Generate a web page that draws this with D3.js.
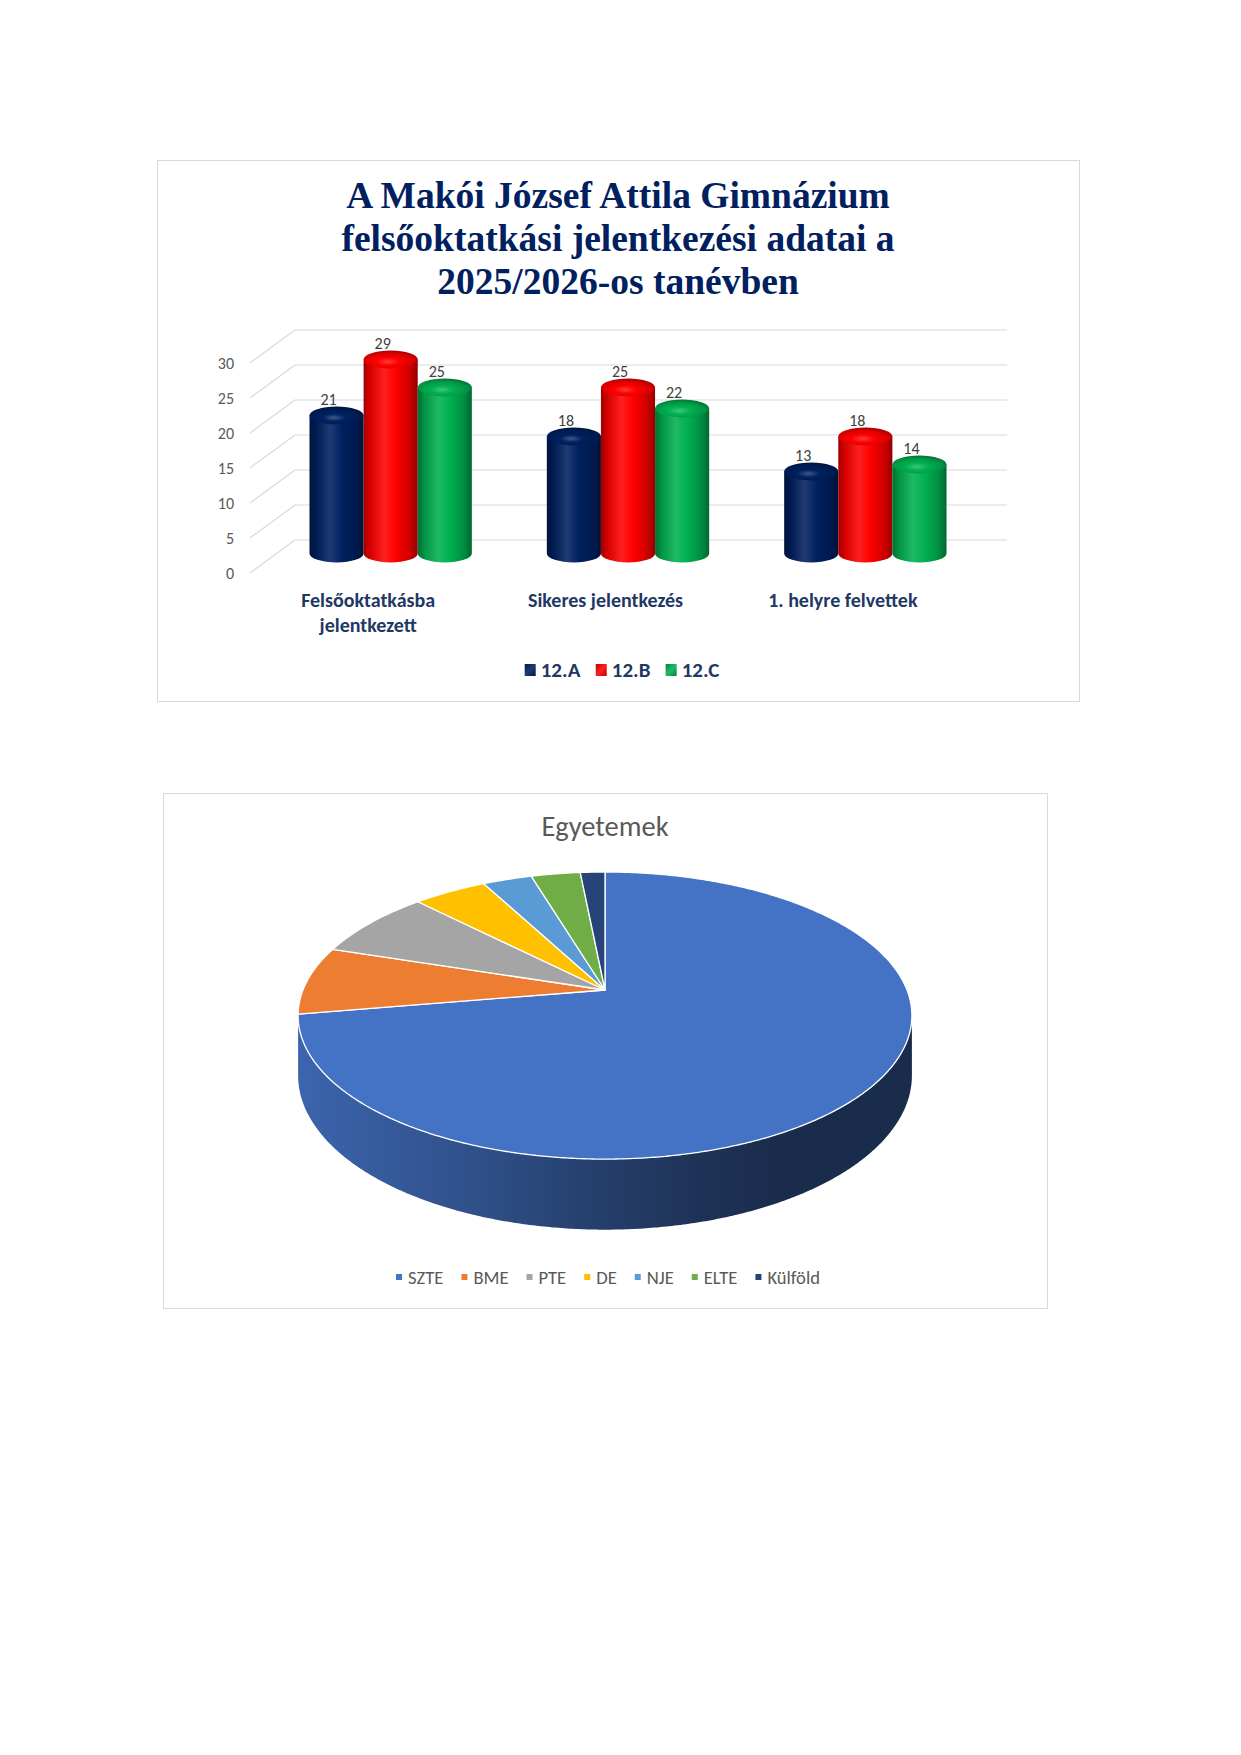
<!DOCTYPE html>
<html>
<head>
<meta charset="utf-8">
<script src="https://cdn.jsdelivr.net/npm/d3@7/dist/d3.min.js"></script>
<style>
  body { margin: 0; background: #fff; }
  svg { display: block; }
</style>
</head>
<body>
<div id="wrapper"></div>
<script>
// ---- data ----
const categories = ["Felsőoktatkásba jelentkezett", "Sikeres jelentkezés", "1. helyre felvettek"];
const series = ["12.A", "12.B", "12.C"];
const values12A = [21, 18, 13];
const values12B = [29, 25, 18];
const values12C = [25, 22, 14];
const yTicks = [0, 5, 10, 15, 20, 25, 30];

const universities = ["SZTE", "BME", "PTE", "DE", "NJE", "ELTE", "Külföld"];
const uniCounts = [47, 5, 5, 3, 2, 2, 1];

const barColors = ["#002060", "#FF0000", "#00B050"];
const pieColors = ["#4472C4", "#ED7D31", "#A5A5A5", "#FFC000", "#5B9BD5", "#70AD47", "#264478"];

const sans = "Calibri, Carlito, Lato, sans-serif";

const svg = d3.select("#wrapper").append("svg")
  .attr("width", 1241)
  .attr("height", 1755);
const defs = svg.append("defs");

// ---------------- bar chart ----------------
const bar = svg.append("g");

bar.append("rect")
  .attr("x", 157.5).attr("y", 160.5)
  .attr("width", 922).attr("height", 541)
  .attr("fill", "#fff").attr("stroke", "#D9D9D9");

const titleLines = ["A Makói József Attila Gimnázium", "felsőoktatkási jelentkezési adatai a", "2025/2026-os tanévben"];
bar.append("text")
  .attr("text-anchor", "middle")
  .attr("font-family", "'Times New Roman', 'Liberation Serif', serif")
  .attr("font-weight", "bold")
  .attr("font-size", 37.5)
  .attr("fill", "#002060")
  .selectAll("tspan")
  .data(titleLines)
  .join("tspan")
  .attr("x", 618)
  .attr("y", (d, i) => 208 + i * 43)
  .text(d => d);

// front edge scale (labels), walls are offset in depth
const depth = { dx: 45, dy: -33 };
const frontX = 250;
const backRight = 1007;
const yFront = d3.scaleLinear().domain([0, 30]).range([573, 363]);
const yMid = v => yFront(v) + depth.dy / 2;

const grid = bar.append("g").attr("stroke", "#D9D9D9").attr("stroke-width", 1.2).attr("fill", "none");
grid.selectAll(".back").data(yTicks).join("line")
  .attr("x1", frontX + depth.dx).attr("x2", backRight)
  .attr("y1", d => yFront(d) + depth.dy).attr("y2", d => yFront(d) + depth.dy);
grid.selectAll(".side").data(yTicks).join("line")
  .attr("x1", frontX).attr("y1", d => yFront(d))
  .attr("x2", frontX + depth.dx).attr("y2", d => yFront(d) + depth.dy);

const yAxis = bar.append("g")
  .attr("transform", `translate(${frontX},0)`)
  .call(d3.axisLeft(yFront).tickValues(yTicks).tickSize(0).tickPadding(16));
yAxis.select(".domain").remove();
yAxis.selectAll("text")
  .attr("font-family", sans)
  .attr("font-size", 16)
  .attr("fill", "#595959");

const x0 = d3.scaleBand()
  .domain(categories)
  .range([272, 984])
  .paddingInner(0.316)
  .paddingOuter(0.158);
const x1 = d3.scaleBand()
  .domain(series)
  .range([0, x0.bandwidth()]);

// gradients for cylinders
barColors.forEach((c, i) => {
  const base = d3.rgb(c);
  const light = d3.interpolateRgb(c, "#ffffff")(0.12);
  const body = defs.append("linearGradient").attr("id", "body" + i)
    .attr("x1", 0).attr("x2", 1).attr("y1", 0).attr("y2", 0);
  [[0, base.darker(1.3)], [0.12, base.darker(0.5)], [0.38, light], [0.6, base], [0.85, base.darker(0.6)], [1, base.darker(1.5)]]
    .forEach(([o, col]) => body.append("stop").attr("offset", o).attr("stop-color", col));
  const cap = defs.append("radialGradient").attr("id", "cap" + i)
    .attr("cx", 0.45).attr("cy", 0.62).attr("r", 0.6);
  [[0, d3.interpolateRgb(c, "#ffffff")(0.25)], [0.35, base], [0.8, base.darker(0.5)], [1, base.darker(1.1)]]
    .forEach(([o, col]) => cap.append("stop").attr("offset", o).attr("stop-color", col));
  const mark = defs.append("linearGradient").attr("id", "mark" + i)
    .attr("x1", 0).attr("x2", 1).attr("y1", 0).attr("y2", 1);
  [[0, base.darker(0.8)], [0.5, light], [1, base.darker(0.8)]]
    .forEach(([o, col]) => mark.append("stop").attr("offset", o).attr("stop-color", col));
});

const barData = categories.map((cat, ci) => ({
  cat,
  vals: [values12A[ci], values12B[ci], values12C[ci]].map((v, si) => ({ s: series[si], si, v }))
}));

const ry = 9;
const groups = bar.append("g").selectAll("g")
  .data(barData)
  .join("g")
  .attr("transform", d => `translate(${x0(d.cat)},0)`);

const cyl = groups.selectAll("g")
  .data(d => d.vals)
  .join("g");

cyl.append("path")
  .attr("fill", d => `url(#body${d.si})`)
  .attr("d", d => {
    const x = x1(d.s), w = x1.bandwidth();
    const top = yMid(d.v) + 6, base = yMid(0) - 3;
    return `M${x},${top}L${x},${base}A${w / 2},${ry} 0 0 0 ${x + w},${base}L${x + w},${top}Z`;
  });
cyl.append("ellipse")
  .attr("cx", d => x1(d.s) + x1.bandwidth() / 2)
  .attr("cy", d => yMid(d.v) + 6)
  .attr("rx", x1.bandwidth() / 2)
  .attr("ry", ry)
  .attr("fill", d => `url(#cap${d.si})`);
cyl.append("text")
  .attr("x", d => x1(d.s) + x1.bandwidth() / 2 - 8)
  .attr("y", d => yMid(d.v) - 5)
  .attr("text-anchor", "middle")
  .attr("font-family", sans)
  .attr("font-size", 16)
  .attr("fill", "#404040")
  .text(d => d.v);

// category labels at the front edge
const catText = bar.append("g").selectAll("text")
  .data(categories)
  .join("text")
  .attr("text-anchor", "middle")
  .attr("font-family", sans)
  .attr("font-weight", "bold")
  .attr("font-size", 20)
  .attr("fill", "#1F3864");
catText.each(function (d) {
  const t = d3.select(this);
  const cx = x0(d) + x0.bandwidth() / 2 - depth.dx / 2;
  const words = d.split(" ");
  let lines = [], line = [];
  const probe = t.append("tspan");
  words.forEach(w => {
    probe.text([...line, w].join(" "));
    if (line.length && probe.node().getComputedTextLength() > 190) {
      lines.push(line.join(" "));
      line = [w];
    } else line.push(w);
  });
  lines.push(line.join(" "));
  probe.remove();
  t.selectAll("tspan").data(lines).join("tspan")
    .attr("x", cx).attr("y", (l, i) => 607 + i * 25).text(l => l);
});

// legend
const legBar = bar.append("g").attr("transform", "translate(0,670)");
const legItems = legBar.selectAll("g").data(series).join("g");
legItems.append("rect")
  .attr("width", 11).attr("height", 12).attr("y", -6)
  .attr("fill", (d, i) => `url(#mark${i})`);
legItems.append("text")
  .attr("x", 16).attr("y", 7)
  .attr("font-family", sans).attr("font-weight", "bold")
  .attr("font-size", 21).attr("fill", "#1F3864")
  .text(d => d);
{
  let widths = [];
  legItems.each(function () { widths.push(this.getBBox().width); });
  const gap = 15;
  const total = d3.sum(widths) + gap * (widths.length - 1);
  let x = 622 - total / 2;
  legItems.attr("transform", (d, i) => { const t = `translate(${x},0)`; x += widths[i] + gap; return t; });
}

// ---------------- pie chart ----------------
const pie = svg.append("g");
pie.append("rect")
  .attr("x", 163.5).attr("y", 793.5)
  .attr("width", 884).attr("height", 515)
  .attr("fill", "#fff").attr("stroke", "#D9D9D9");

pie.append("text")
  .attr("x", 605).attr("y", 836)
  .attr("text-anchor", "middle")
  .attr("font-family", sans)
  .attr("font-size", 28.5)
  .attr("fill", "#595959")
  .text("Egyetemek");

// perspective disc: apex at centre, back edge shrunk
const P = { cx: 605, cy: 990, s: 302, b: 139, e: 0.178, thick: 58 };
function proj(a, drop) {
  const X = Math.sin(a), Z = -Math.cos(a), w = 1 - P.e * Z;
  return [P.cx + P.s * X / w, P.cy + (P.b * Z + drop) / w];
}
function arcPts(a0, a1, drop) {
  const n = Math.max(2, Math.ceil((a1 - a0) / 0.008));
  return d3.range(n + 1).map(i => proj(a0 + (a1 - a0) * i / n, drop));
}

const arcs = d3.pie().sort(null).value(d => d.v)(universities.map((u, i) => ({ u, v: uniCounts[i], c: pieColors[i] })));

const sideLo = Math.acos(-P.e), sideHi = 2 * Math.PI - Math.acos(-P.e);
arcs.forEach((d, i) => {
  const g = defs.append("linearGradient").attr("id", "side" + i)
    .attr("gradientUnits", "userSpaceOnUse")
    .attr("x1", 297).attr("x2", 912).attr("y1", 0).attr("y2", 0);
  [[0, 0.33], [0.25, 0.9], [0.51, 1.75], [0.66, 2.3], [0.8, 2.7], [1, 2.7]]
    .forEach(([o, k]) => g.append("stop").attr("offset", o).attr("stop-color", d3.rgb(d.data.c).darker(k)));
});

const sides = arcs.filter(d => d.endAngle > sideLo && d.startAngle < sideHi);
pie.append("g").selectAll("path")
  .data(sides)
  .join("path")
  .attr("fill", d => `url(#side${arcs.indexOf(d)})`)
  .attr("d", d => {
    const a0 = Math.max(d.startAngle, sideLo), a1 = Math.min(d.endAngle, sideHi);
    const pts = arcPts(a0, a1, 0).concat(arcPts(a0, a1, P.thick).reverse());
    return d3.line()(pts) + "Z";
  });

pie.append("g").selectAll("path")
  .data(arcs)
  .join("path")
  .attr("fill", d => d.data.c)
  .attr("stroke", "#fff")
  .attr("stroke-width", 1.3)
  .attr("stroke-linejoin", "round")
  .attr("d", d => d3.line()([[P.cx, P.cy], ...arcPts(d.startAngle, d.endAngle, 0)]) + "Z");

// legend
const legPie = pie.append("g").attr("transform", "translate(0,1277)");
const pItems = legPie.selectAll("g").data(arcs).join("g");
pItems.append("rect")
  .attr("width", 6).attr("height", 6).attr("y", -3)
  .attr("fill", d => d.data.c);
pItems.append("text")
  .attr("x", 12).attr("y", 6.5)
  .attr("font-family", sans)
  .attr("font-size", 18.6)
  .attr("fill", "#595959")
  .text(d => d.data.u);
{
  let widths = [];
  pItems.each(function () { widths.push(this.getBBox().width); });
  const gap = 18;
  const total = d3.sum(widths) + gap * (widths.length - 1);
  let x = 608 - total / 2;
  pItems.attr("transform", (d, i) => { const t = `translate(${x},0)`; x += widths[i] + gap; return t; });
}
</script>
</body>
</html>
